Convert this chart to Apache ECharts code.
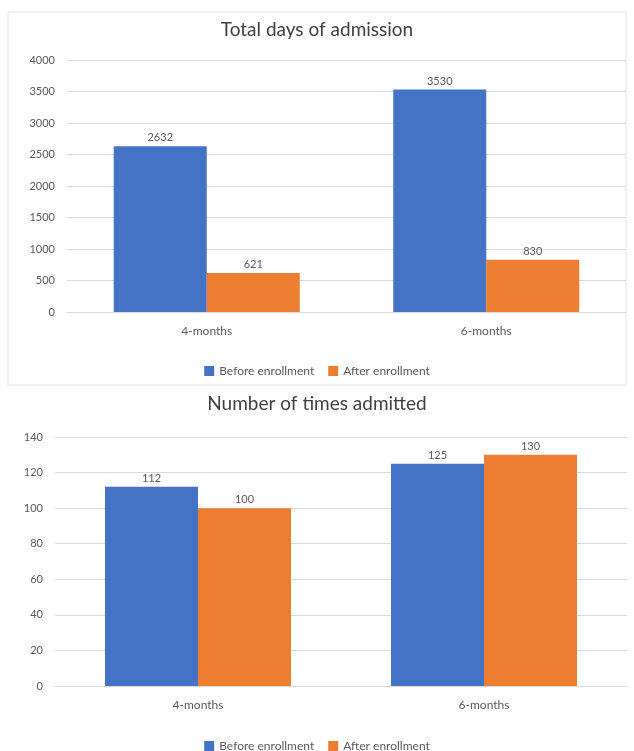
<!DOCTYPE html>
<html>
<head>
<meta charset="utf-8">
<script src="https://cdn.jsdelivr.net/npm/echarts@6/dist/echarts.min.js"></script>
<style>
  html, body { margin: 0; padding: 0; background: #fff; }
  #chart { width: 634px; height: 751px; }
</style>
</head>
<body>
<div id="chart"></div>
<script>
// data
var categories = ['4-months', '6-months'];
var seriesNames = ['Before enrollment', 'After enrollment'];
var daysBefore = [2632, 3530];
var daysAfter = [621, 830];
var timesBefore = [112, 125];
var timesAfter = [100, 130];
var daysTicks = { min: 0, max: 4000, interval: 500 };
var timesTicks = { min: 0, max: 140, interval: 20 };

var font = 'Lato';
var txt = '#595959';
var colors = ['#4472C4', '#ED7D31'];

var myChart = echarts.init(document.getElementById('chart'));

function xAx(gi) {
  return {
    type: 'category', gridIndex: gi, data: categories,
    axisLine: { lineStyle: { color: '#d9d9d9' } },
    axisTick: { show: false },
    axisLabel: { color: txt, fontFamily: font, fontSize: 12, margin: 13 }
  };
}
function yAx(gi, t) {
  return {
    type: 'value', gridIndex: gi, min: t.min, max: t.max, interval: t.interval,
    axisLine: { show: false }, axisTick: { show: false },
    splitLine: { lineStyle: { color: '#d9d9d9' } },
    axisLabel: { color: txt, fontFamily: font, fontSize: 11, margin: 12,
      formatter: function (v) { return String(v); } }
  };
}
function bar(name, data, gi, ci) {
  return {
    type: 'bar', name: name, xAxisIndex: gi, yAxisIndex: gi, data: data,
    barWidth: 93, barGap: '0%', itemStyle: { color: colors[ci] },
    label: { show: true, position: 'top', color: txt, fontFamily: font, fontSize: 11, distance: 3 }
  };
}

var option = {
  animation: false,
  graphic: [{
    type: 'rect', shape: { x: 8, y: 12, width: 618, height: 373 },
    style: { fill: 'none', stroke: '#e3e3e3', lineWidth: 1 }, z: -1
  }],
  title: [
    { text: 'Total days of admission', left: 'center', top: 15,
      textStyle: { color: '#404040', fontFamily: font, fontWeight: 'normal', fontSize: 19 } },
    { text: 'Number of times admitted', left: 'center', top: 389,
      textStyle: { color: '#404040', fontFamily: font, fontWeight: 'normal', fontSize: 19 } }
  ],
  legend: [
    { data: seriesNames, top: 360, left: 'center', itemWidth: 10, itemHeight: 10, itemGap: 14,
      icon: 'rect', textStyle: { color: txt, fontFamily: font, fontSize: 12 } },
    { data: seriesNames, top: 735, left: 'center', itemWidth: 10, itemHeight: 10, itemGap: 14,
      icon: 'rect', textStyle: { color: txt, fontFamily: font, fontSize: 12 } }
  ],
  grid: [
    { left: 67, right: 8, top: 60, height: 252 },
    { left: 55, right: 7, top: 437, height: 249 }
  ],
  xAxis: [xAx(0), xAx(1)],
  yAxis: [yAx(0, daysTicks), yAx(1, timesTicks)],
  series: [
    bar(seriesNames[0], daysBefore, 0, 0),
    bar(seriesNames[1], daysAfter, 0, 1),
    bar(seriesNames[0], timesBefore, 1, 0),
    bar(seriesNames[1], timesAfter, 1, 1)
  ]
};
myChart.setOption(option);
</script>
</body>
</html>
